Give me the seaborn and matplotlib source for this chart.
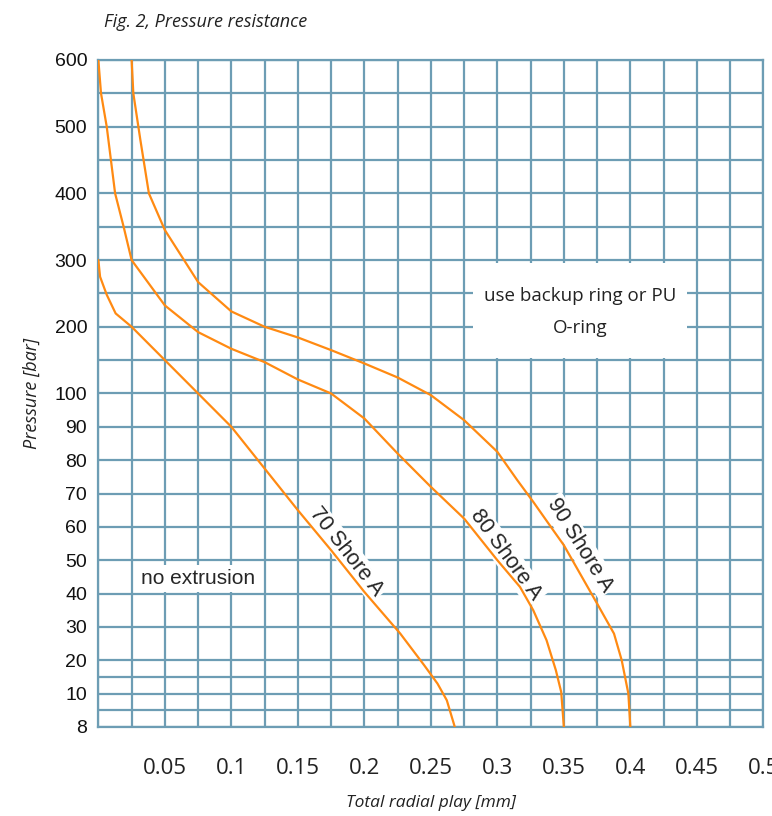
import numpy as np
import pandas as pd
import seaborn as sns
from matplotlib import pyplot as plt
from matplotlib.patches import Rectangle

# curves: total radial play [mm] vs pressure [bar]
play_70 = [0.0, 0.0013, 0.0063, 0.013, 0.025, 0.05, 0.075, 0.1, 0.125, 0.15, 0.175, 0.2, 0.227, 0.245,
           0.255, 0.262, 0.268]
pressure_70 = [300, 275, 248, 220, 200, 150, 100, 90, 77.5, 65, 53, 40.5, 28, 18.5, 13, 9.6, 8]

play_80 = [0.0, 0.002, 0.0063, 0.0126, 0.019, 0.025, 0.05, 0.075, 0.1, 0.125, 0.15, 0.175, 0.2, 0.225,
           0.25, 0.275, 0.3, 0.317, 0.327, 0.337, 0.344, 0.348, 0.35]
pressure_80 = [600, 550, 500, 400, 350, 300, 232, 192, 167, 147, 121, 100, 92.5, 82, 72, 62.5, 50, 42,
               35, 26, 17, 10.5, 8]

play_90 = [0.025, 0.0263, 0.0316, 0.038, 0.05, 0.075, 0.1, 0.125, 0.15, 0.175, 0.2, 0.225, 0.25, 0.275,
           0.3, 0.315, 0.327, 0.342, 0.35, 0.375, 0.3877, 0.3935, 0.3985, 0.4]
pressure_90 = [600, 550, 480, 400, 345, 267, 223, 200, 184, 165, 145, 124, 99.5, 92, 82.5, 74, 67.5, 59,
               54.5, 37, 28, 20, 10, 8]

curve_names = ['70 Shore A', '80 Shore A', '90 Shore A']

y_tick_values = [8, 10, 20, 30, 40, 50, 60, 70, 80, 90, 100, 200, 300, 400, 500, 600]
y_extra_grid = [9, 15, 150, 250, 350, 450, 550]
x_tick_values = [0.05, 0.1, 0.15, 0.2, 0.25, 0.3, 0.35, 0.4, 0.45, 0.5]
x_tick_labels = ['0.05', '0.1', '0.15', '0.2', '0.25', '0.3', '0.35', '0.4', '0.45', '0.5']

# the pressure axis is drawn piecewise linear (8-10, 10-20, 20-100, 100-600)
P_KNOTS = [8, 10, 20, 100, 600]
U_KNOTS = [0, 1, 2, 10, 20]


def forward(p):
    return np.interp(p, P_KNOTS, U_KNOTS)


def inverse(u):
    return np.interp(u, U_KNOTS, P_KNOTS)


GRID = '#6d9db4'
ORANGE = '#ff8a12'
ARIAL = ['Liberation Sans', 'DejaVu Sans']
MYRIAD = ['Open Sans', 'DejaVu Sans']

df = pd.concat([
    pd.DataFrame({'play': play_70, 'pressure': pressure_70, 'curve': curve_names[0]}),
    pd.DataFrame({'play': play_80, 'pressure': pressure_80, 'curve': curve_names[1]}),
    pd.DataFrame({'play': play_90, 'pressure': pressure_90, 'curve': curve_names[2]}),
])

sns.set_style('white')
plt.rcParams['font.family'] = ARIAL

fig = plt.figure(figsize=(7.72, 8.16), dpi=100)
ax = fig.add_axes([0.1274, 0.1091, 0.8614, 0.8174])
ax.set_yscale('function', functions=(forward, inverse))

sns.lineplot(data=df, x='play', y='pressure', hue='curve', palette=[ORANGE] * 3, sort=False,
             estimator=None, legend=False, linewidth=1.6, zorder=3, ax=ax)

ax.set_xlim(0, 0.5)
ax.set_ylim(8, 600)

ax.set_xticks(x_tick_values)
ax.set_xticklabels(x_tick_labels, family=MYRIAD, fontsize=16)
ax.set_xticks(np.arange(0, 0.5001, 0.025), minor=True)
ax.set_yticks(y_tick_values)
ax.set_yticklabels([str(v) for v in y_tick_values], family=ARIAL, fontsize=14)
ax.set_yticks(y_extra_grid, minor=True)

ax.tick_params(axis='x', which='major', length=15, width=1.6, color=GRID, pad=7, labelcolor='#222222')
ax.tick_params(axis='x', which='minor', length=0)
ax.tick_params(axis='y', which='both', length=0, pad=8, labelcolor='#111111')

ax.grid(True, which='both', color=GRID, linewidth=1.6)
ax.set_axisbelow(True)
for side in ax.spines.values():
    side.set_color(GRID)
    side.set_linewidth(1.6)

ax.set_xlabel('Total radial play [mm]', family=MYRIAD, style='italic', fontsize=12.5,
              labelpad=12, color='#222222')
ax.set_ylabel('Pressure [bar]', family=MYRIAD, style='italic', fontsize=13,
              labelpad=10, color='#222222')
fig.text(0.135, 0.973, 'Fig. 2, Pressure resistance', family=MYRIAD, style='italic',
         fontsize=13, color='#222222', va='center')

# labels on the curves
label_style = dict(family=ARIAL, fontsize=15.5, ha='center', va='center', zorder=2.5,
                   bbox=dict(facecolor='white', edgecolor='none', pad=1.5))
ax.text(0.186, 52.5, '70 Shore A', rotation=-52, **label_style)
ax.text(0.306, 51.5, '80 Shore A', rotation=-54, **label_style)
ax.text(0.362, 54.5, '90 Shore A', rotation=-58, **label_style)

ax.text(0.075, 44.6, 'no extrusion', family=ARIAL, fontsize=15, ha='center', va='center', zorder=2.5,
        bbox=dict(facecolor='white', edgecolor='none', pad=3))

ax.add_patch(Rectangle((0.2817, 153), 0.1609, 142, facecolor='white', edgecolor='none', zorder=2.5))
ax.text(0.3622, 222, 'use backup ring or PU\nO-ring', family=MYRIAD, fontsize=13.5,
        ha='center', va='center', linespacing=2.0, color='#222222', zorder=2.6)

fig.savefig('out.png', dpi=100)
